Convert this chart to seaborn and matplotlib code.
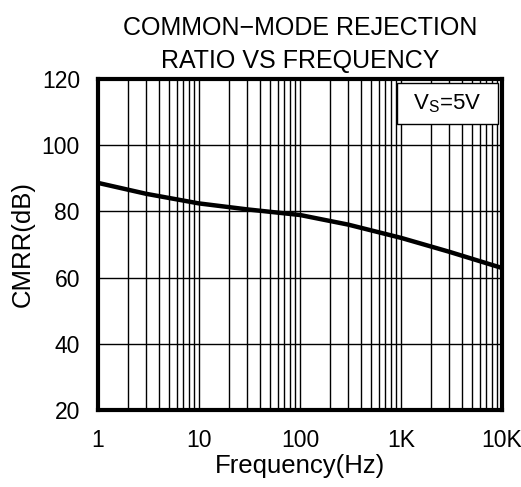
import numpy as np
import pandas as pd
import seaborn as sns
import matplotlib.pyplot as plt
from matplotlib.patches import Rectangle
from matplotlib.ticker import LogLocator, FixedLocator, NullFormatter

# data
freq = [1, 3, 10, 30, 100, 300, 1000, 3000, 10000]
cmrr = [88.6, 85.3, 82.4, 80.6, 78.9, 76.0, 72.0, 67.8, 62.9]
xticks = [1, 10, 100, 1000, 10000]
xticklabels = ['1', '10', '100', '1K', '10K']
yticks = [20, 40, 60, 80, 100, 120]

df = pd.DataFrame({'freq': freq, 'cmrr': cmrr})

sns.set_style('white')
plt.rcParams['font.family'] = ['Liberation Sans', 'DejaVu Sans']
plt.rcParams['text.color'] = 'black'
plt.rcParams['axes.labelcolor'] = 'black'
plt.rcParams['xtick.color'] = 'black'
plt.rcParams['ytick.color'] = 'black'

fig = plt.figure(figsize=(5.21, 4.87), dpi=100)
ax = fig.add_axes([0.188, 0.158, 0.7755, 0.68])

sns.lineplot(x='freq', y='cmrr', data=df, color='black', linewidth=3.2, ax=ax, zorder=3)

ax.set_xscale('log')
ax.set_xlim(1, 10000)
ax.set_ylim(20, 120)
ax.xaxis.set_major_locator(FixedLocator(xticks))
ax.set_xticklabels(xticklabels)
ax.xaxis.set_minor_locator(LogLocator(base=10, subs=np.arange(2, 10)))
ax.xaxis.set_minor_formatter(NullFormatter())
ax.set_yticks(yticks)
ax.grid(which='both', axis='x', color='black', linewidth=1)
ax.grid(which='major', axis='y', color='black', linewidth=1)
ax.tick_params(which='both', length=0, labelsize=16.5)
ax.tick_params(axis='y', pad=13)
ax.tick_params(axis='x', pad=14)

for s in ax.spines.values():
    s.set_linewidth(3)
    s.set_color('black')

ax.set_xlabel('Frequency(Hz)', fontsize=18.5, labelpad=1)
ax.set_ylabel('CMRR(dB)', fontsize=18.5, labelpad=5)
ax.set_title('COMMON\u2212MODE REJECTION\nRATIO VS FREQUENCY', fontsize=18, pad=8, linespacing=1.45)

# condition box in the top-right corner
ax.add_patch(Rectangle((0.74, 0.864), 0.25, 0.124, transform=ax.transAxes,
                       facecolor='white', edgecolor='black', linewidth=1, zorder=5))
ax.text(0.865, 0.926, r'V$_\mathregular{S}$=5V', transform=ax.transAxes, ha='center', va='center',
        fontsize=16, zorder=6)

plt.savefig('out.png', dpi=100)
